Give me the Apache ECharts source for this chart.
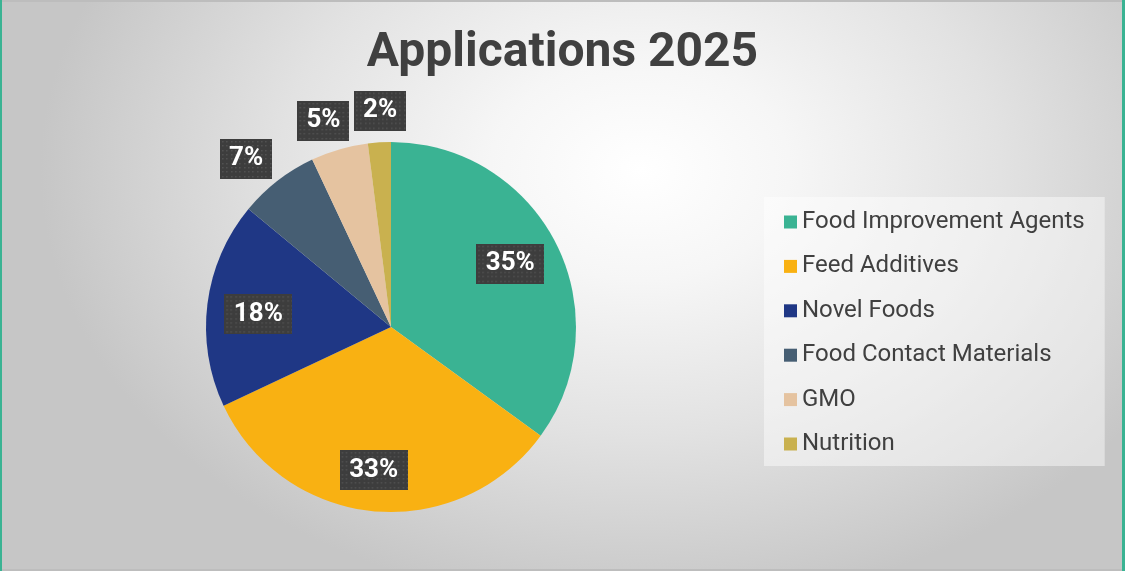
<!DOCTYPE html>
<html>
<head>
<meta charset="utf-8">
<script src="https://cdn.jsdelivr.net/npm/echarts@6/dist/echarts.min.js"></script>
<style>
  html, body { margin: 0; padding: 0; }
  #wrap { position: relative; width: 1125px; height: 571px; overflow: hidden;
    background: radial-gradient(ellipse 600px 440px at 640px 170px, #ffffff 0%, #f6f6f6 25%, #e2e2e2 60%, #cdcdcd 90%, #c6c6c6 100%); }
  #chart { position: absolute; left: 0; top: 0; width: 1125px; height: 571px; }
  .b { position: absolute; pointer-events: none; }
</style>
</head>
<body>
<div id="wrap">
  <div id="chart"></div>
  <div class="b" style="left:0;top:0;width:1125px;height:2px;background:#bdbdbd"></div>
  <div class="b" style="left:0;bottom:0;width:1125px;height:2px;background:#bdbdbd"></div>
  <div class="b" style="left:0;top:0;width:2px;height:571px;background:#3ab393"></div>
  <div class="b" style="right:0;top:0;width:3px;height:571px;background:#3ab393"></div>
</div>
<script>
const titleText = 'Applications 2025';
const categories = ['Food Improvement Agents', 'Feed Additives', 'Novel Foods', 'Food Contact Materials', 'GMO', 'Nutrition'];
const shares = [35, 33, 18, 7, 5, 2];
const colors = ['#3ab393', '#f9b112', '#1f3785', '#465e73', '#e5c3a0', '#c9b14f'];

function makeBox(w, h) {
  const c = document.createElement('canvas');
  c.width = w; c.height = h;
  const g = c.getContext('2d');
  g.fillStyle = '#3d3d3d';
  g.fillRect(0, 0, w, h);
  g.fillStyle = '#545454';
  for (let y = 2; y < h; y += 4.33) {
    for (let x = 2; x < w; x += 4.33) {
      g.fillRect(Math.round(x), Math.round(y), 1.5, 1.5);
    }
  }
  return c;
}
const wideBox = makeBox(68, 40);
const narrowBox = makeBox(52, 40);

// label nudges (style)
const labelNudge = { 0: [-7, 1], 1: [-4, 2], 2: [8, 5], 3: [-58, -56], 4: [-28, -70], 5: [-2, -75] };

const chart = echarts.init(document.getElementById('chart'), null, { renderer: 'canvas' });

const mainData = categories.map((n, i) => ({ name: n, value: shares[i], itemStyle: { color: colors[i] } }));
const labelData = categories.map((n, i) => {
  const narrow = String(shares[i]).length < 2;
  return {
    name: n, value: shares[i],
    label: { width: narrow ? 52 : 68, backgroundColor: { image: narrow ? narrowBox : wideBox } }
  };
});

chart.setOption({
  backgroundColor: 'transparent',
  animation: false,
  title: {
    text: titleText, left: 'center', top: 25,
    textStyle: { fontFamily: 'Roboto', fontWeight: 'bold', fontSize: 48, color: '#404040' }
  },
  legend: {
    orient: 'vertical', left: 764, top: 197,
    padding: [12, 20, 9, 20],
    backgroundColor: 'rgba(255,255,255,0.45)',
    itemWidth: 13, itemHeight: 13, itemGap: 18.4,
    icon: 'rect',
    data: categories,
    textStyle: { fontFamily: 'Roboto', fontSize: 24, color: '#404040', lineHeight: 26 }
  },
  series: [
    {
      type: 'pie', center: [391, 327], radius: [0, 185],
      startAngle: 90, clockwise: true, silent: true,
      label: { show: false }, labelLine: { show: false },
      emphasis: { disabled: true },
      data: mainData
    },
    {
      type: 'pie', center: [391, 327], radius: [92.5, 185],
      startAngle: 90, clockwise: true, silent: true,
      itemStyle: { color: 'rgba(0,0,0,0)' },
      emphasis: { disabled: true },
      label: {
        show: true, position: 'inside', formatter: '{c}%',
        fontFamily: 'Roboto', fontWeight: 'bold', fontSize: 26, color: '#ffffff',
        height: 40, lineHeight: 40, align: 'center', verticalAlign: 'middle',
        padding: 0,
        shadowColor: 'rgba(0,0,0,0.45)', shadowBlur: 6, shadowOffsetX: 3, shadowOffsetY: 4
      },
      labelLine: { show: false },
      labelLayout: function (p) {
        const n = labelNudge[p.dataIndex];
        return n ? { dx: n[0], dy: n[1] } : {};
      },
      data: labelData
    }
  ]
});
</script>
</body>
</html>
